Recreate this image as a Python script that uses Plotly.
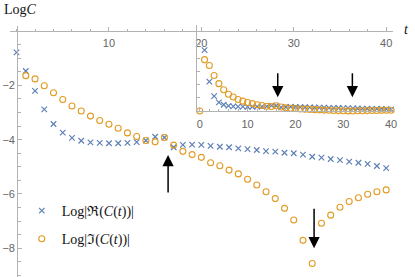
import numpy as np
import plotly.graph_objects as go

# ---------------- data ----------------
t_re = list(range(0, 41))
log_re = [-0.78, -1.47, -2.20, -2.88, -3.42, -3.74, -3.93, -4.04, -4.10, -4.12,
          -4.13, -4.13, -4.12, -4.09, -4.03, -3.89, -3.92, -4.28, -4.19, -4.18,
          -4.19, -4.23, -4.26, -4.28, -4.32, -4.35, -4.38, -4.42, -4.44, -4.48,
          -4.50, -4.55, -4.63, -4.66, -4.71, -4.75, -4.81, -4.85, -4.89, -4.97,
          -5.05]

t_im = list(range(1, 41))
log_im = [-1.64, -1.76, -2.01, -2.27, -2.52, -2.76, -2.94, -3.13, -3.29, -3.43,
          -3.58, -3.75, -3.88, -4.03, -4.08, -3.92, -4.20, -4.43, -4.55, -4.65,
          -4.85, -4.96, -5.12, -5.26, -5.46, -5.67, -5.92, -6.17, -6.53, -6.96,
          -7.71, -8.56, -7.08, -6.78, -6.49, -6.28, -6.14, -6.01, -5.92, -5.85]

# inset: |Re C(t)| and |Im C(t)| on a linear scale (Im C(0) = 0)
t_im0 = [0]
im_at0 = [0.0]

main_xticks = [10, 20, 30, 40]
main_yticks = [-8, -6, -4, -2]
inset_xticks = [0, 10, 20, 30, 40]

arrow_main_t = [16.4, 32.2]
arrow_inset_t = [16.3, 31.9]

BLUE = "#5E81B5"
ORANGE = "#E19C24"
AXC = "#b3b3b3"
TICKFONT = dict(family="Liberation Sans", size=11, color="#666666")
SERIF = "Liberation Serif"

re_name = "Log|\u211c(<i>C</i>(<i>t</i>))|"
im_name = "Log|\u2111(<i>C</i>(<i>t</i>))|"

xmark = dict(symbol="x-thin-open", size=5.5, color=BLUE, line=dict(color=BLUE, width=1.2))
omark = dict(symbol="circle-open", size=6, color=ORANGE, line=dict(color=ORANGE, width=1.1))

fig = go.Figure()
fig.add_trace(go.Scatter(x=t_re, y=log_re, mode="markers", marker=xmark,
                         name=re_name, legendgroup="a", xaxis="x", yaxis="y"))
fig.add_trace(go.Scatter(x=t_im, y=log_im, mode="markers", marker=omark,
                         name=im_name, legendgroup="b", xaxis="x", yaxis="y"))

# inset traces
fig.add_trace(go.Scatter(x=t_re[1:], y=np.exp(np.array(log_re[1:])), mode="markers",
                         marker=xmark, showlegend=False, xaxis="x2", yaxis="y2",
                         cliponaxis=False))
fig.add_trace(go.Scatter(x=t_im0 + t_im, y=im_at0 + list(np.exp(np.array(log_im))),
                         mode="markers", marker=omark, showlegend=False,
                         xaxis="x2", yaxis="y2", cliponaxis=False))

W, H = 415, 277

def px_x(p):
    return p / W

def px_y(p):
    return (H - p) / H

axis_common = dict(showline=True, linecolor=AXC, linewidth=1, showgrid=False,
                   zeroline=False, ticks="inside", tickcolor=AXC, tickwidth=1,
                   tickfont=TICKFONT)

fig.update_layout(
    width=W, height=H, margin=dict(l=0, r=0, t=0, b=0),
    paper_bgcolor="white", plot_bgcolor="rgba(0,0,0,0)",
    xaxis=dict(domain=[px_x(10), px_x(397)], range=[-0.72, 40.76],
               anchor="free", position=px_y(31.2), side="bottom",
               tickmode="array", tickvals=main_xticks, ticklen=4,
               ticklabelstandoff=2,
               minor=dict(tickmode="linear", tick0=0, dtick=2, ticklen=2.5,
                          ticks="inside", tickcolor=AXC),
               **axis_common),
    yaxis=dict(domain=[0, px_y(26)], range=[-9.06, 0.19],
               anchor="free", position=px_x(17.3),
               tickmode="array", tickvals=main_yticks, ticklen=4,
               minor=dict(tickmode="linear", tick0=0, dtick=0.5, ticklen=2.5,
                          ticks="inside", tickcolor=AXC),
               **axis_common),
    xaxis2=dict(domain=[px_x(199), px_x(397)], range=[-0.56, 40.43],
                anchor="y2", tickmode="array", tickvals=inset_xticks, ticklen=4,
                ticklabelstandoff=3,
                minor=dict(tickmode="linear", tick0=0, dtick=2, ticklen=2.5,
                           ticks="inside", tickcolor=AXC),
                **axis_common),
    yaxis2=dict(domain=[px_y(111), px_y(25)], range=[0, 0.325],
                anchor="x2", tickmode="linear", tick0=0, dtick=0.05, ticklen=3,
                showticklabels=False,
                **axis_common),
    legend=dict(x=px_x(22), y=px_y(195), xanchor="left", yanchor="top",
                font=dict(family=SERIF, size=14, color="#111111"),
                bgcolor="rgba(0,0,0,0)", tracegroupgap=7, itemwidth=30),
    showlegend=True,
)

annotations = [
    dict(text="Log<i>C</i>", xref="paper", yref="paper", x=px_x(2), y=px_y(10),
         xanchor="left", yanchor="middle", showarrow=False,
         font=dict(family=SERIF, size=14, color="#111111")),
    dict(text="<i>t</i>", xref="paper", yref="paper", x=px_x(410), y=px_y(30),
         xanchor="center", yanchor="middle", showarrow=False,
         font=dict(family=SERIF, size=14, color="#111111")),
]

arrow_style = dict(showarrow=True, arrowhead=2, arrowsize=1.5, arrowwidth=1.5,
                   arrowcolor="black", text="", standoff=0, startstandoff=0)
# main-plot arrows (tip, tail) in data units
annotations.append(dict(x=arrow_main_t[0], y=-4.56, ax=arrow_main_t[0], ay=-6.0,
                        xref="x", yref="y", axref="x", ayref="y", **arrow_style))
annotations.append(dict(x=arrow_main_t[1], y=-8.0, ax=arrow_main_t[1], ay=-6.49,
                        xref="x", yref="y", axref="x", ayref="y", **arrow_style))
# inset arrows
for tt in arrow_inset_t:
    annotations.append(dict(x=tt, y=0.052, ax=tt, ay=0.148,
                            xref="x2", yref="y2", axref="x2", ayref="y2", **arrow_style))

fig.update_layout(annotations=annotations)

fig.write_html("out.html", config={"displayModeBar": False},
               post_script="document.body.style.margin='0px';")
